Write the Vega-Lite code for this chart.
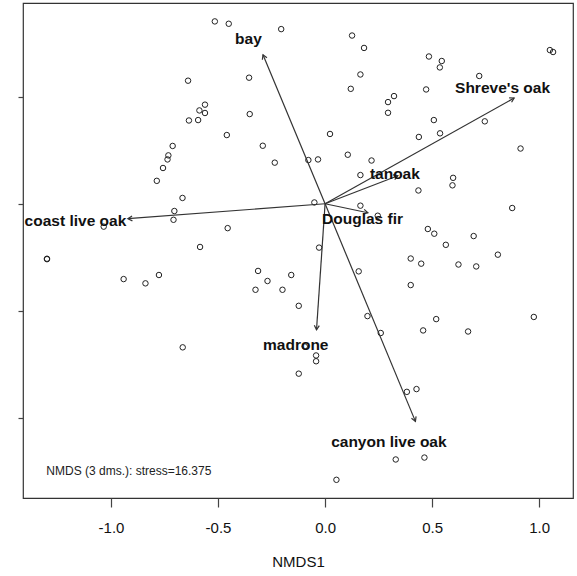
{
  "$schema": "https://vega.github.io/schema/vega-lite/v6.json",
  "width": 550,
  "height": 495,
  "autosize": {"type": "none"},
  "padding": {"left": 23, "top": 3, "right": 4, "bottom": 78},
  "background": "white",
  "config": {
    "view": {"stroke": "#333", "strokeWidth": 1.2},
    "font": "Liberation Sans",
    "axis": {"grid": false, "domain": false, "tickColor": "#444", "tickWidth": 1.2}
  },
  "datasets": {
    "sites": [
      {"x": -0.515, "y": 0.852}, {"x": -0.450, "y": 0.841}, {"x": -0.205, "y": 0.816},
      {"x": -0.640, "y": 0.575}, {"x": -0.355, "y": 0.589}, {"x": -0.561, "y": 0.463},
      {"x": -0.587, "y": 0.436}, {"x": -0.561, "y": 0.424}, {"x": -0.636, "y": 0.389},
      {"x": -0.593, "y": 0.391}, {"x": -0.352, "y": 0.419}, {"x": -0.459, "y": 0.321},
      {"x": -0.712, "y": 0.270}, {"x": -0.732, "y": 0.226}, {"x": -0.736, "y": 0.207},
      {"x": -0.757, "y": 0.167}, {"x": -0.786, "y": 0.107}, {"x": -0.291, "y": 0.271},
      {"x": -0.235, "y": 0.192}, {"x": -0.666, "y": 0.027}, {"x": -0.704, "y": -0.034},
      {"x": -0.708, "y": -0.075}, {"x": -1.034, "y": -0.107}, {"x": -0.455, "y": -0.114},
      {"x": -0.584, "y": -0.202}, {"x": 0.126, "y": 0.786}, {"x": 0.182, "y": 0.728},
      {"x": 0.485, "y": 0.688}, {"x": 0.545, "y": 0.667}, {"x": 0.536, "y": 0.637},
      {"x": 1.050, "y": 0.718}, {"x": 1.065, "y": 0.709}, {"x": 0.165, "y": 0.604},
      {"x": 0.720, "y": 0.597}, {"x": 0.120, "y": 0.537}, {"x": 0.472, "y": 0.534},
      {"x": 0.322, "y": 0.503}, {"x": 0.294, "y": 0.475}, {"x": 0.294, "y": 0.425},
      {"x": 0.508, "y": 0.391}, {"x": 0.746, "y": 0.385}, {"x": 0.023, "y": 0.326},
      {"x": 0.438, "y": 0.312}, {"x": 0.537, "y": 0.329}, {"x": 0.913, "y": 0.258},
      {"x": -0.078, "y": 0.204}, {"x": -0.033, "y": 0.207}, {"x": 0.106, "y": 0.229},
      {"x": 0.217, "y": 0.202}, {"x": 0.165, "y": 0.134}, {"x": 0.598, "y": 0.121},
      {"x": 0.595, "y": 0.086}, {"x": 0.436, "y": 0.062}, {"x": -0.050, "y": 0.006},
      {"x": 0.165, "y": -0.009}, {"x": 0.874, "y": -0.020}, {"x": 0.480, "y": -0.118},
      {"x": 0.510, "y": -0.140}, {"x": 0.694, "y": -0.151}, {"x": 0.564, "y": -0.192},
      {"x": -0.028, "y": -0.205}, {"x": -1.299, "y": -0.257}, {"x": -1.299, "y": -0.259},
      {"x": -0.941, "y": -0.352}, {"x": -0.839, "y": -0.372}, {"x": -0.776, "y": -0.333},
      {"x": -0.665, "y": -0.671}, {"x": -0.313, "y": -0.314}, {"x": -0.269, "y": -0.361},
      {"x": -0.325, "y": -0.402}, {"x": -0.199, "y": -0.402}, {"x": -0.158, "y": -0.333},
      {"x": -0.123, "y": -0.477}, {"x": -0.123, "y": -0.794}, {"x": 0.807, "y": -0.238},
      {"x": 0.400, "y": -0.256}, {"x": 0.449, "y": -0.280}, {"x": 0.623, "y": -0.284},
      {"x": 0.706, "y": -0.293}, {"x": 0.157, "y": -0.316}, {"x": 0.400, "y": -0.380},
      {"x": 0.198, "y": -0.525}, {"x": 0.260, "y": -0.604}, {"x": 0.519, "y": -0.539},
      {"x": 0.458, "y": -0.592}, {"x": 0.668, "y": -0.597}, {"x": 0.975, "y": -0.529},
      {"x": -0.042, "y": -0.709}, {"x": -0.042, "y": -0.736}, {"x": -0.095, "y": -0.667},
      {"x": 0.382, "y": -0.879}, {"x": 0.427, "y": -0.866}, {"x": 0.330, "y": -1.195},
      {"x": 0.464, "y": -1.186}, {"x": 0.053, "y": -1.290}, {"x": 0.246, "y": -0.056}
    ],
    "species": [
      {"species": "bay", "x": -0.290, "y": 0.696, "lx": -0.358, "ly": 0.770},
      {"species": "Shreve's oak", "x": 0.883, "y": 0.494, "lx": 0.829, "ly": 0.541},
      {"species": "tanoak", "x": 0.340, "y": 0.131, "lx": 0.326, "ly": 0.140},
      {"species": "Douglas fir", "x": 0.200, "y": -0.042, "lx": 0.175, "ly": -0.070},
      {"species": "coast live oak", "x": -0.921, "y": -0.070, "lx": -1.166, "ly": -0.079},
      {"species": "madrone", "x": -0.040, "y": -0.589, "lx": -0.137, "ly": -0.659},
      {"species": "canyon live oak", "x": 0.422, "y": -1.017, "lx": 0.298, "ly": -1.114}
    ],
    "note": [
      {"text": "NMDS (3 dms.): stress=16.375", "x": -1.302, "y": -1.251}
    ]
  },
  "layer": [
    {
      "data": {"name": "sites"},
      "mark": {"type": "point", "filled": false, "color": "#222", "strokeWidth": 1, "size": 30, "opacity": 1},
      "encoding": {
        "x": {
          "field": "x", "type": "quantitative",
          "scale": {"domain": [-1.411, 1.158], "nice": false, "zero": false},
          "axis": {
            "values": [-1, -0.5, 0, 0.5, 1], "format": ".1f",
            "labelExpr": "replace(datum.label, '\u2212', '-')",
            "tickSize": 9, "labelFontSize": 15, "labelColor": "#111", "labelPadding": 13,
            "title": "NMDS1", "titleFontSize": 15, "titleFontWeight": "normal",
            "titleColor": "#111", "titlePadding": 19
          }
        },
        "y": {
          "field": "y", "type": "quantitative",
          "scale": {"domain": [-1.375, 0.938], "nice": false, "zero": false},
          "axis": {"values": [-1, -0.5, 0, 0.5], "tickSize": 5, "labels": false, "title": null}
        }
      }
    },
    {
      "data": {"name": "species"},
      "mark": {"type": "rule", "color": "#333", "strokeWidth": 1.2},
      "encoding": {
        "x": {"field": "x", "type": "quantitative"},
        "y": {"field": "y", "type": "quantitative"},
        "x2": {"datum": 0},
        "y2": {"datum": 0}
      }
    },
    {
      "data": {"name": "species"},
      "transform": [{"calculate": "atan2(datum.x, datum.y) * 180 / PI", "as": "heading"}],
      "mark": {
        "type": "point", "filled": false, "color": "#333", "strokeWidth": 1.2, "opacity": 1,
        "shape": "M -0.5 0.866 L 0 0 L 0.5 0.866", "size": 100
      },
      "encoding": {
        "x": {"field": "x", "type": "quantitative"},
        "y": {"field": "y", "type": "quantitative"},
        "angle": {"field": "heading", "type": "quantitative", "scale": null}
      }
    },
    {
      "data": {"name": "species"},
      "mark": {"type": "text", "fontWeight": "bold", "fontSize": 15.5, "color": "#111", "align": "center", "baseline": "middle"},
      "encoding": {
        "x": {"field": "lx", "type": "quantitative"},
        "y": {"field": "ly", "type": "quantitative"},
        "text": {"field": "species"}
      }
    },
    {
      "data": {"name": "note"},
      "mark": {"type": "text", "fontSize": 12, "color": "#222", "align": "left", "baseline": "middle"},
      "encoding": {
        "x": {"field": "x", "type": "quantitative"},
        "y": {"field": "y", "type": "quantitative"},
        "text": {"field": "text"}
      }
    }
  ]
}
